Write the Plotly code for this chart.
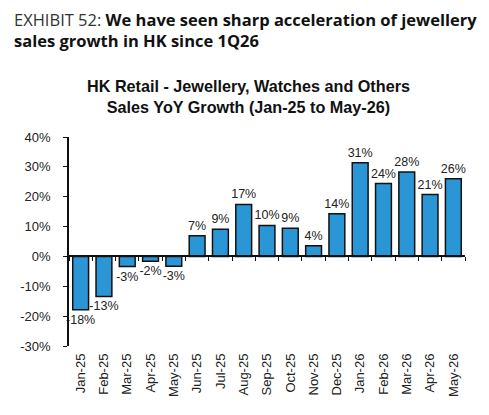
import plotly.graph_objects as go

months = ["Jan-25", "Feb-25", "Mar-25", "Apr-25", "May-25", "Jun-25", "Jul-25", "Aug-25",
          "Sep-25", "Oct-25", "Nov-25", "Dec-25", "Jan-26", "Feb-26", "Mar-26", "Apr-26", "May-26"]
yoy_growth = [-17.9, -13.4, -3.4, -1.6, -3.3, 6.9, 9.1, 17.4,
              10.4, 9.4, 3.6, 14.3, 31.4, 24.4, 28.3, 20.7, 26.0]
y_ticks = [-30, -20, -10, 0, 10, 20, 30, 40]

W, H = 489, 415
OFF = 8  # page body margin offset compensation
ML, MT = 66 - OFF, 137 - OFF
MR, MB = W - (465 - OFF), H - (346 - OFF)
pw, ph = W - ML - MR, H - MT - MB

def px_x(px):
    return (px - OFF - ML) / pw

def px_y(py):
    return (H - MB - (py - OFF)) / ph

ymin, ymax = -30, 40
zero_pos = (0 - ymin) / (ymax - ymin)

fig = go.Figure()
fig.add_trace(go.Bar(
    x=months, y=yoy_growth,
    marker=dict(color="#2A96D5", line=dict(color="#111111", width=1.5)),
    width=0.68,
    text=[f"{round(v):.0f}%" for v in yoy_growth],
    textposition="outside",
    constraintext="none",
    textfont=dict(family="Arial, Liberation Sans", size=12.5, color="#222222"),
    cliponaxis=False,
    hoverinfo="skip",
    showlegend=False,
))
# invisible trace that carries the zero-line axis
fig.add_trace(go.Scatter(
    x=months, y=yoy_growth, xaxis="x2", mode="none",
    hoverinfo="skip", showlegend=False,
))

fig.update_layout(
    width=W, height=H,
    margin=dict(l=ML, r=MR, t=MT, b=MB, pad=0),
    paper_bgcolor="white", plot_bgcolor="white",
    font=dict(family="Arial, Liberation Sans", size=13, color="#222222"),
    xaxis=dict(
        type="category", range=[-0.5, len(months) - 0.5],
        showline=False, ticks="", showgrid=False, zeroline=False,
        tickangle=-90, tickfont=dict(size=13, color="#222222"),
        ticklabelstandoff=4,
    ),
    xaxis2=dict(
        type="category", range=[-0.5, len(months) - 0.5],
        overlaying="x", anchor="free", position=zero_pos, side="bottom",
        showline=True, linecolor="#111111", linewidth=1.8,
        ticks="outside", tickson="boundaries", ticklen=4, tickwidth=1.2, tickcolor="#111111",
        showticklabels=False, showgrid=False, zeroline=False,
    ),
    yaxis=dict(
        range=[ymin, ymax], tickvals=y_ticks, ticktext=[f"{v}%" for v in y_ticks],
        showline=True, linecolor="#111111", linewidth=1.8,
        ticks="outside", ticklen=4, tickwidth=1.2, tickcolor="#111111",
        showgrid=False, zeroline=False, ticklabelstandoff=10,
        tickfont=dict(size=13, color="#222222"),
    ),
    annotations=[
        dict(
            text="<span style='color:#333333'>EXHIBIT 52: </span><b>We have seen sharp acceleration of jewellery</b><br><b>sales growth in HK since 1Q26</b>",
            xref="paper", yref="paper", x=px_x(9), y=px_y(30),
            xanchor="left", yanchor="middle", align="left", showarrow=False,
            font=dict(family="Open Sans", size=16.5, color="#111111"),
        ),
        dict(
            text="<b>HK Retail - Jewellery, Watches and Others</b><br><b>Sales YoY Growth (Jan-25 to May-26)</b>",
            xref="paper", yref="paper", x=px_x(247), y=px_y(97),
            xanchor="center", yanchor="middle", align="center", showarrow=False,
            font=dict(family="Arial, Liberation Sans", size=16.2, color="#111111"),
        ),
    ],
)

fig.write_html("out.html")
